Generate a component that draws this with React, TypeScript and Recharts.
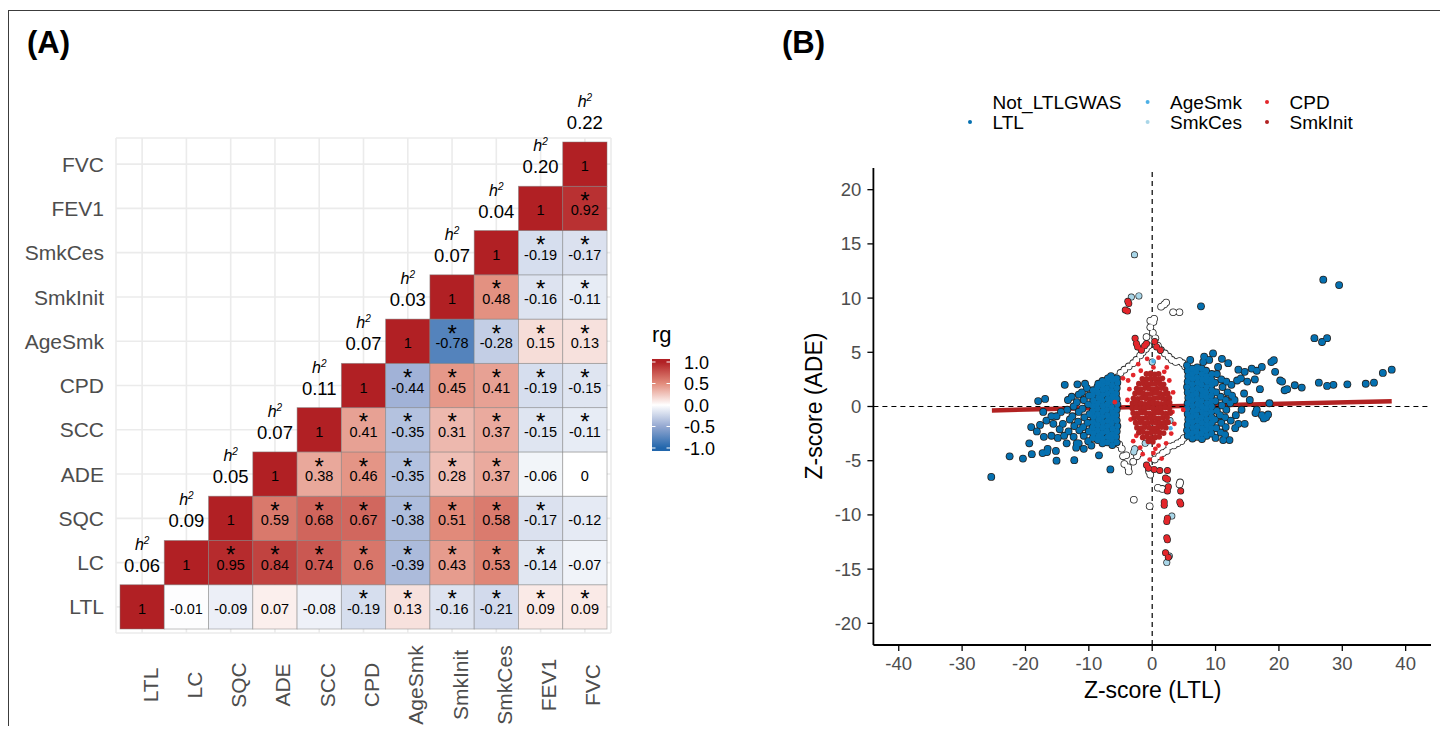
import React from 'react';
import {
  ScatterChart,
  Scatter,
  XAxis,
  YAxis,
  CartesianGrid,
  ReferenceLine
} from 'recharts';

const FONT = '"Liberation Sans", Arial, Helvetica, sans-serif';

// ---------- panel A : genetic correlation matrix ----------
const traits = ['LTL', 'LC', 'SQC', 'ADE', 'SCC', 'CPD', 'AgeSmk', 'SmkInit', 'SmkCes', 'FEV1', 'FVC'];
const heritability = [0.06, 0.09, 0.05, 0.07, 0.11, 0.07, 0.03, 0.07, 0.04, 0.2, 0.22];

// row i holds rg of trait i with traits i..10
const rgRows = [
  [1, -0.01, -0.09, 0.07, -0.08, -0.19, 0.13, -0.16, -0.21, 0.09, 0.09],
  [1, 0.95, 0.84, 0.74, 0.6, -0.39, 0.43, 0.53, -0.14, -0.07],
  [1, 0.59, 0.68, 0.67, -0.38, 0.51, 0.58, -0.17, -0.12],
  [1, 0.38, 0.46, -0.35, 0.28, 0.37, -0.06, 0],
  [1, 0.41, -0.35, 0.31, 0.37, -0.15, -0.11],
  [1, -0.44, 0.45, 0.41, -0.19, -0.15],
  [1, -0.78, -0.28, 0.15, 0.13],
  [1, 0.48, -0.16, -0.11],
  [1, -0.19, -0.17],
  [1, 0.92],
  [1]
];
const sigRows = [
  [0, 0, 0, 0, 0, 1, 1, 1, 1, 1, 1],
  [0, 1, 1, 1, 1, 1, 1, 1, 1, 0],
  [0, 1, 1, 1, 1, 1, 1, 1, 0],
  [0, 1, 1, 1, 1, 1, 0, 0],
  [0, 1, 1, 1, 1, 1, 1],
  [0, 1, 1, 1, 1, 1],
  [0, 1, 1, 1, 1],
  [0, 1, 1, 1],
  [0, 1, 1],
  [0, 1],
  [0]
];
const rgLegendTicks = [1.0, 0.5, 0.0, -0.5, -1.0];

// ---------- panel B : Z-score scatter ----------
const zTicksX = [-40, -30, -20, -10, 0, 10, 20, 30, 40];
const zTicksY = [-20, -15, -10, -5, 0, 5, 10, 15, 20];
const fitLine = [[-25.3, -0.36], [37.8, 0.49]];

const notGwas: [number, number][] = [
  [-5.5, 2.7], [-5.0, 3.1], [-4.4, 3.4], [-3.7, 3.7], [-3.0, 4.0], [-2.5, 4.3], [-1.9, 4.7], [-1.5, 5.0],
  [-1.0, 5.3], [-0.6, 5.6], [-0.9, 6.4], [0.1, 6.8], [0.5, 6.3], [-0.3, 7.3], [0.2, 7.8], [-0.3, 7.9],
  [0.3, 8.1], [1.4, 9.2], [1.9, 9.4], [2.2, 9.6], [3.3, 8.7], [4.3, 8.7], [0.9, 5.6], [1.4, 5.2],
  [2.0, 4.9], [2.6, 4.6], [3.1, 4.3], [3.7, 4.1], [4.3, 4.2], [4.8, 4.0], [5.2, 3.7],
  [-5.2, -3.5], [-4.8, -3.9], [-4.6, -4.6], [-4.1, -4.5], [-4.4, -5.3], [-3.8, -5.6], [-3.7, -6.0],
  [-3.0, -5.1], [-2.4, -4.6], [-2.0, -4.3], [-0.5, -6.0], [-0.3, -6.3], [0.4, -4.9], [1.1, -4.6],
  [1.7, -4.3], [2.3, -4.1], [2.7, -3.7], [3.4, -3.6], [4.0, -3.4], [4.6, -3.2], [5.0, -2.9],
  [0.9, -7.5], [1.6, -7.6], [4.3, -7.2], [4.4, -7.0], [-2.9, -8.6], [-0.4, -9.2]
];

const ltlHits: [number, number][] = [
  // left block
  [-5.6, -3.3], [-5.7, -2.8], [-5.6, -2.3], [-5.5, -1.8], [-5.6, -1.3], [-5.7, -0.8], [-5.6, -0.3], [-5.5, 0.2],
  [-5.6, 0.7], [-5.7, 1.2], [-5.6, 1.7], [-5.5, 2.2], [-5.6, 2.6],
  [-6.3, -3.55], [-6.4, -3.05], [-6.35, -2.55], [-6.3, -2.05], [-6.4, -1.55], [-6.35, -1.05], [-6.3, -0.55],
  [-6.4, -0.05], [-6.35, 0.45], [-6.3, 0.95], [-6.4, 1.45], [-6.35, 1.95], [-6.3, 2.45], [-6.5, 2.8],
  [-7.1, -3.3], [-7.0, -2.8], [-7.15, -2.3], [-7.1, -1.8], [-7.0, -1.3], [-7.1, -0.8], [-7.15, -0.3], [-7.1, 0.2],
  [-7.0, 0.7], [-7.1, 1.2], [-7.15, 1.7], [-7.1, 2.2], [-7.0, 2.6],
  [-7.85, -3.4], [-7.8, -2.95], [-7.9, -2.45], [-7.85, -1.95], [-7.8, -1.45], [-7.9, -0.95], [-7.85, -0.45],
  [-7.8, 0.05], [-7.9, 0.55], [-7.85, 1.05], [-7.8, 1.55], [-7.9, 2.0], [-7.85, 2.35],
  [-8.6, -3.1], [-8.5, -2.7], [-8.65, -2.2], [-8.6, -1.7], [-8.5, -1.2], [-8.6, -0.7], [-8.65, -0.2], [-8.6, 0.3],
  [-8.5, 0.8], [-8.6, 1.3], [-8.65, 1.8], [-8.5, 2.1],
  [-9.35, -2.9], [-9.3, -2.45], [-9.4, -1.95], [-9.35, -1.45], [-9.3, -0.95], [-9.4, -0.45], [-9.35, 0.05],
  [-9.3, 0.55], [-9.4, 1.05], [-9.35, 1.5],
  [-10.1, -3.2], [-10.0, -2.3], [-10.2, -1.5], [-9.9, -0.7], [-10.1, 0.2], [-10.0, 1.0], [-10.3, 1.7], [-10.6, 2.1],
  [-10.8, -2.7], [-10.9, -1.9], [-10.7, -1.0], [-11.0, -0.2], [-10.8, 0.6], [-11.1, 1.3],
  [-11.6, -3.4], [-11.5, -2.2], [-11.7, -1.4], [-11.6, -0.5], [-11.9, 0.4], [-11.6, 1.1], [-11.8, 2.05],
  [-12.4, -2.8], [-12.3, -1.8], [-12.6, -0.9], [-12.4, 0.0], [-12.7, 0.9], [-13.2, -2.3], [-13.0, -1.2],
  [-13.4, -0.3], [-13.3, 0.6], [-13.8, 2.0], [-13.9, -2.7], [-14.1, -1.6], [-14.4, -0.5],
  // left outliers
  [-25.4, -6.5], [-22.5, -4.6], [-20.4, -4.8], [-19.0, -4.4], [-19.4, -3.4], [-17.3, -4.3], [-16.6, -4.2],
  [-16.5, -3.9], [-15.1, -5.0], [-15.2, -4.1], [-12.3, -4.95], [-8.4, -4.5], [-6.6, -5.8], [-11.9, -3.4],
  [-18.0, 0.5], [-16.9, 0.7], [-19.1, -1.9], [-17.7, -1.7], [-17.1, -2.8], [-15.9, -2.7], [-14.9, -2.9],
  [-16.7, -1.3], [-15.9, -0.9], [-15.1, -0.9], [-17.2, -0.5], [-18.2, -2.3], [-14.6, -2.1], [-12.0, -3.8],
  [-10.8, -3.9], [-9.6, -3.6], [-13.5, -3.4], [-15.6, -1.6],
  // right block
  [5.6, -2.7], [5.5, -2.2], [5.6, -1.7], [5.7, -1.2], [5.6, -0.7], [5.5, -0.2], [5.6, 0.3], [5.7, 0.8],
  [5.6, 1.3], [5.5, 1.8], [5.6, 2.3], [5.7, 2.8], [5.6, 3.3], [5.5, 3.8],
  [6.35, -2.95], [6.3, -2.45], [6.4, -1.95], [6.35, -1.45], [6.3, -0.95], [6.4, -0.45], [6.35, 0.05],
  [6.3, 0.55], [6.4, 1.05], [6.35, 1.55], [6.3, 2.05], [6.4, 2.55], [6.35, 3.05], [6.3, 3.5],
  [7.1, -2.8], [7.0, -2.3], [7.15, -1.8], [7.1, -1.3], [7.0, -0.8], [7.1, -0.3], [7.15, 0.2], [7.1, 0.7],
  [7.0, 1.2], [7.1, 1.7], [7.15, 2.2], [7.1, 2.7], [7.0, 3.2], [7.1, 3.6],
  [7.85, -3.0], [7.8, -2.5], [7.9, -2.0], [7.85, -1.5], [7.8, -1.0], [7.9, -0.5], [7.85, 0.0], [7.8, 0.5],
  [7.9, 1.0], [7.85, 1.5], [7.8, 2.0], [7.9, 2.5], [7.85, 3.0], [7.8, 3.5], [8.05, 4.1],
  [8.6, -2.7], [8.5, -2.2], [8.65, -1.7], [8.6, -1.2], [8.5, -0.7], [8.6, -0.2], [8.65, 0.3], [8.6, 0.8],
  [8.5, 1.3], [8.6, 1.8], [8.65, 2.3], [8.6, 2.8], [8.5, 3.3],
  [9.35, -2.5], [9.3, -2.0], [9.4, -1.5], [9.35, -1.0], [9.3, -0.5], [9.4, 0.0], [9.35, 0.5], [9.3, 1.0],
  [9.4, 1.5], [9.35, 2.0], [9.3, 2.5], [9.4, 3.0],
  [10.0, -2.9], [10.1, -2.0], [9.9, -1.2], [10.2, -0.4], [10.0, 0.5], [10.1, 1.3], [9.9, 2.2], [10.2, 3.0],
  [10.4, 3.65], [10.8, -2.4], [10.9, -1.5], [10.7, -0.8], [11.0, 0.1], [10.8, 0.9], [11.1, 1.8], [10.9, 2.5],
  [11.6, -1.9], [11.5, -1.0], [11.7, -0.3], [11.6, 0.6], [11.9, 1.3], [11.7, 2.3], [12.0, 4.0],
  [12.4, -1.3], [12.3, 0.3], [12.6, 1.0], [12.5, 2.0], [13.1, -2.0], [13.2, -0.8], [13.6, -1.6], [13.0, 0.6],
  [13.6, 3.4], [13.4, 2.4], [11.2, -3.1], [12.2, -3.1], [11.5, -2.6],
  // right outliers
  [14.1, -0.3], [14.6, -1.6], [14.6, 3.2], [15.7, 3.5], [16.5, 3.3], [17.3, 3.65], [18.8, 4.1], [19.2, 4.27],
  [19.4, 3.2], [20.2, 2.4], [20.9, 1.5], [15.0, 2.3], [16.2, 2.5], [14.0, 2.6], [16.5, -0.3], [17.3, -0.8],
  [18.0, -1.0], [18.3, -0.74], [17.6, -1.1], [16.3, -0.6], [15.4, 0.6], [14.5, 1.2], [17.0, 1.6], [18.5, 0.3],
  [20.5, 2.3], [21.3, 1.6], [22.5, 1.96], [23.6, 1.75], [26.3, 2.2], [27.6, 1.9], [28.6, 2.0], [30.8, 2.05],
  [33.7, 2.1], [35.0, 2.2], [36.4, 3.1], [37.8, 3.4], [25.6, 6.3], [26.8, 5.95], [27.6, 6.3], [27.0, 11.7],
  [29.5, 11.2], [7.7, 9.24], [8.2, 4.6], [9.6, 4.9], [6.0, 4.3], [11.0, 4.4], [9.0, 4.3]
];

const ageSmkHits: [number, number][] = [[0.2, 4.2], [1.9, -1.0], [-0.4, -3.3], [2.9, -2.0]];

const smkCesHits: [number, number][] = [
  [-2.8, 14.0], [-3.3, 10.1], [-2.1, 10.2], [3.1, -10.1], [2.3, -14.4], [2.7, -13.8],
  [-2.75, -3.9], [-2.9, -4.2], [0.0, 4.1], [2.8, -1.3], [-1.1, -3.4]
];

const cpdOuter: [number, number][] = [
  [-3.85, 9.7], [-3.7, 9.5], [-4.25, 8.9], [-3.9, 8.8], [-2.7, 6.3], [-2.5, 5.8], [-2.3, 5.5], [-1.7, 5.2],
  [-0.9, 5.8], [0.4, 6.0], [0.7, 5.5], [1.3, 5.2], [-1.2, 5.6],
  [-0.9, -5.4], [-0.6, -5.7], [0.3, -5.8], [1.2, -5.9], [2.4, -5.9], [2.4, -6.7], [2.1, -6.6], [2.55, -7.4],
  [2.4, -7.8], [4.5, -7.8], [1.9, -8.8], [1.9, -9.1], [4.35, -8.8], [4.5, -9.0], [2.4, -10.3], [2.3, -10.6],
  [2.3, -12.1], [2.4, -12.3], [2.1, -13.5], [2.55, -13.9]
];

const cpdInner: [number, number][] = [
  [-2.2, 3.9], [0.2, 3.6], [-3.8, 2.4], [-4.6, 2.6], [-3.0, 2.9], [1.9, 3.2], [2.7, 2.4], [-0.8, 4.4],
  [1.0, 4.5], [-1.8, 3.3], [2.3, 3.6], [2.7, 0.3], [3.2, -0.5], [3.5, -1.6], [-2.5, -2.7], [-3.0, -3.2],
  [-3.6, 1.6], [-3.9, 0.6], [-3.4, -1.2], [3.3, 1.3], [3.0, -2.5], [-5.9, 0.4], [4.9, -0.3],
  [0.2, -4.3], [-0.4, -4.9], [0.5, -3.9], [-1.5, -4.4], [1.5, -4.8], [1.0, -3.6], [-1.9, -3.8], [2.2, -3.4]
];

const smkInitHits: [number, number][] = [
  [-0.9, 3.0], [-0.25, 3.05], [0.4, 2.95], [1.0, 3.0],
  [-1.55, 2.55], [-0.9, 2.5], [-0.25, 2.6], [0.4, 2.55], [1.05, 2.5], [1.6, 2.6],
  [-2.1, 2.1], [-1.45, 2.15], [-0.8, 2.05], [-0.15, 2.1], [0.5, 2.1], [1.15, 2.15], [1.8, 2.05],
  [-2.45, 1.65], [-1.8, 1.6], [-1.15, 1.7], [-0.5, 1.65], [0.15, 1.6], [0.8, 1.65], [1.45, 1.7], [2.1, 1.6],
  [-2.7, 1.2], [-2.05, 1.25], [-1.4, 1.2], [-0.75, 1.15], [-0.1, 1.2], [0.55, 1.25], [1.2, 1.2], [1.85, 1.15], [2.45, 1.2],
  [-2.95, 0.75], [-2.3, 0.7], [-1.65, 0.8], [-1.0, 0.75], [-0.35, 0.7], [0.3, 0.75], [0.95, 0.8], [1.6, 0.75], [2.25, 0.7], [2.7, 0.8],
  [-3.1, 0.3], [-2.45, 0.35], [-1.8, 0.3], [-1.15, 0.25], [-0.5, 0.3], [0.15, 0.35], [0.8, 0.3], [1.45, 0.25], [2.1, 0.3], [2.75, 0.35],
  [-3.15, -0.15], [-2.5, -0.1], [-1.85, -0.2], [-1.2, -0.15], [-0.55, -0.1], [0.1, -0.15], [0.75, -0.2], [1.4, -0.15], [2.05, -0.1], [2.7, -0.15],
  [-3.0, -0.6], [-2.35, -0.65], [-1.7, -0.55], [-1.05, -0.6], [-0.4, -0.65], [0.25, -0.6], [0.9, -0.55], [1.55, -0.6], [2.2, -0.65], [2.85, -0.6],
  [-2.85, -1.05], [-2.2, -1.0], [-1.55, -1.1], [-0.9, -1.05], [-0.25, -1.0], [0.4, -1.05], [1.05, -1.1], [1.7, -1.05], [2.35, -1.0],
  [-2.6, -1.5], [-1.95, -1.45], [-1.3, -1.55], [-0.65, -1.5], [0.0, -1.45], [0.65, -1.5], [1.3, -1.55], [1.95, -1.5], [2.5, -1.45],
  [-2.4, -1.95], [-1.75, -2.0], [-1.1, -1.9], [-0.45, -1.95], [0.2, -2.0], [0.85, -1.95], [1.5, -1.9], [2.15, -1.95],
  [-2.1, -2.4], [-1.45, -2.35], [-0.8, -2.45], [-0.15, -2.4], [0.5, -2.35], [1.15, -2.4], [1.8, -2.45],
  [-1.5, -2.85], [-0.85, -2.8], [-0.2, -2.9], [0.45, -2.85], [1.1, -2.8], [-0.6, -3.2], [0.1, -3.25]
];

const legendItems = [
  { name: 'Not_LTLGWAS', color: '#ffffff', col: 0, row: 0 },
  { name: 'LTL', color: '#0570B0', col: 0, row: 1 },
  { name: 'AgeSmk', color: '#4DB0E6', col: 1, row: 0 },
  { name: 'SmkCes', color: '#A9D6E8', col: 1, row: 1 },
  { name: 'CPD', color: '#E3262B', col: 2, row: 0 },
  { name: 'SmkInit', color: '#B22222', col: 2, row: 1 }
];

// ---------- helpers ----------
const colorStops: [number, number[]][] = [
  [-1, [33, 102, 172]],
  [-0.5, [148, 168, 209]],
  [0, [255, 255, 255]],
  [0.5, [226, 140, 124]],
  [1, [177, 32, 36]]
];

function rgColor(v: number) {
  for (let i = 0; i < colorStops.length - 1; i++) {
    const [a, ca] = colorStops[i];
    const [b, cb] = colorStops[i + 1];
    if (v >= a && v <= b) {
      const t = (v - a) / (b - a);
      const c = ca.map((c0, k) => Math.round(c0 + (cb[k] - c0) * t));
      return `rgb(${c[0]},${c[1]},${c[2]})`;
    }
  }
  return v > 0 ? 'rgb(177,32,36)' : 'rgb(33,102,172)';
}

const toXY = (pts: [number, number][]) => pts.map(([x, y]) => ({ x, y }));

const cells = rgRows.flatMap((row, i) =>
  row.map((v, k) => ({ x: i + k + 1, y: i + 1, v, sig: sigRows[i][k] }))
);
const diag = heritability.map((h, i) => ({ x: i + 1, y: i + 1, h }));
const traitPos = traits.map((_, i) => i + 1);

const A_PLOT = 495;
const A_DOMAIN: [number, number] = [0.41, 11.59];
const CELL = A_PLOT / (A_DOMAIN[1] - A_DOMAIN[0]);

const HeatCell = (p: any) => {
  const { cx, cy, payload } = p;
  return (
    <g>
      <rect
        x={cx - CELL / 2}
        y={cy - CELL / 2}
        width={CELL}
        height={CELL}
        fill={rgColor(payload.v)}
        stroke="#7f7f7f"
        strokeOpacity={0.6}
        strokeWidth={0.8}
      />
      {payload.sig ? (
        <text x={cx} y={cy + 0.5} textAnchor="middle" fontSize={24} fill="#000">*</text>
      ) : null}
      <text x={cx} y={cy + 7} textAnchor="middle" fontSize={14.5} fill="#000">{String(payload.v)}</text>
    </g>
  );
};

const H2Label = (p: any) => {
  const { cx, cy, payload } = p;
  const top = cy - CELL / 2;
  return (
    <g>
      <text x={cx} y={top - 35} textAnchor="middle" fontSize={16} fontStyle="italic" fill="#000">
        h<tspan dy={-6} fontSize={10}>2</tspan>
      </text>
      <text x={cx} y={top - 13} textAnchor="middle" fontSize={18.5} fill="#000">{payload.h.toFixed(2)}</text>
    </g>
  );
};

const TraitXTick = (p: any) => {
  const { x, y, payload } = p;
  return (
    <text transform={`translate(${x + 15.5},${y + 52}) rotate(-90)`} textAnchor="middle" fontSize={21} fill="#4d4d4d">
      {traits[payload.value - 1]}
    </text>
  );
};

const TraitYTick = (p: any) => {
  const { x, y, payload } = p;
  return (
    <text x={x - 12} y={y + 7.6} textAnchor="end" fontSize={21} fill="#4d4d4d">
      {traits[payload.value - 1]}
    </text>
  );
};

const ring = (r: number) => (p: any) => <circle cx={p.cx} cy={p.cy} r={r} fill="#222" />;
const fillDot = (r: number, color: string) => (p: any) => <circle cx={p.cx} cy={p.cy} r={r} fill={color} />;

const barY = (v: number) => 405 - v * 43;

export default function App() {
  const axisTick = { fill: '#4d4d4d', fontSize: 18.5 };
  return (
    <div style={{ position: 'relative', margin: -8, width: 1448, height: 734, overflow: 'hidden', fontFamily: FONT, background: '#fff' }}>
      <div style={{ position: 'absolute', left: 8, top: 10, width: 1433, height: 740, border: '1.5px solid #3c3c3c', boxSizing: 'border-box' }} />

      {/* panel A */}
      <div style={{ position: 'absolute', left: 0, top: 0 }}>
        <ScatterChart width={720} height={734} margin={{ top: 138, right: 109, bottom: 11, left: 16 }} style={{ fontFamily: FONT }}>
          <CartesianGrid stroke="#ebebeb" strokeWidth={1.6} />
          <XAxis type="number" dataKey="x" domain={A_DOMAIN} ticks={traitPos} interval={0} height={90}
            axisLine={false} tickLine={false} tickSize={0} tickMargin={0} tick={TraitXTick} />
          <YAxis type="number" dataKey="y" domain={A_DOMAIN} ticks={traitPos} interval={0} width={100}
            axisLine={false} tickLine={false} tickSize={0} tickMargin={0} tick={TraitYTick} />
          <Scatter data={cells} shape={HeatCell} isAnimationActive={false} />
          <Scatter data={diag} shape={H2Label} isAnimationActive={false} />
        </ScatterChart>
      </div>

      {/* panel B */}
      <div style={{ position: 'absolute', left: 760, top: 0 }}>
        <ScatterChart width={688} height={734} margin={{ top: 168, right: 17, bottom: 49, left: 53.4 }} style={{ fontFamily: FONT }}>
          <XAxis type="number" dataKey="x" domain={[-44, 44]} ticks={zTicksX} interval={0} height={40}
            axisLine={{ stroke: '#000', strokeWidth: 1.8 }} tickLine={{ stroke: '#000', strokeWidth: 1.3 }}
            tickSize={6} tickMargin={6} tick={axisTick} />
          <YAxis type="number" dataKey="y" domain={[-22, 22]} ticks={zTicksY} interval={0} width={60}
            axisLine={{ stroke: '#000', strokeWidth: 1.8 }} tickLine={{ stroke: '#000', strokeWidth: 1.3 }}
            tickSize={6} tickMargin={6} tick={axisTick} />
          <Scatter data={toXY(notGwas)} shape={ring(3.8)} isAnimationActive={false} />
          <Scatter data={toXY(notGwas)} shape={fillDot(3.0, '#ffffff')} isAnimationActive={false} />
          <Scatter data={toXY(ltlHits)} shape={ring(3.9)} isAnimationActive={false} />
          <Scatter data={toXY(ltlHits)} shape={fillDot(3.1, '#0570B0')} isAnimationActive={false} />
          <Scatter data={toXY(smkCesHits)} shape={ring(3.5)} isAnimationActive={false} />
          <Scatter data={toXY(smkCesHits)} shape={fillDot(2.8, '#A9D6E8')} isAnimationActive={false} />
          <Scatter data={toXY(ageSmkHits)} shape={fillDot(2.2, '#4DB0E6')} isAnimationActive={false} />
          <Scatter data={toXY(cpdOuter)} shape={ring(3.5)} isAnimationActive={false} />
          <Scatter data={toXY(cpdOuter)} shape={fillDot(2.8, '#E3262B')} isAnimationActive={false} />
          <Scatter data={toXY(cpdInner)} shape={fillDot(2.4, '#E3262B')} isAnimationActive={false} />
          <Scatter data={toXY(smkInitHits)} shape={fillDot(2.9, '#B22222')} isAnimationActive={false} />
          <ReferenceLine segment={fitLine.map(([x, y]) => ({ x, y }))} stroke="#B22222" strokeWidth={4.5} />
          <ReferenceLine x={0} stroke="#000" strokeWidth={1.2} strokeDasharray="5 4" />
          <ReferenceLine y={0} stroke="#000" strokeWidth={1.2} strokeDasharray="5 4" />
        </ScatterChart>
      </div>

      {/* static labels, legends */}
      <svg width={1448} height={734} style={{ position: 'absolute', left: 0, top: 0, pointerEvents: 'none', fontFamily: FONT }}>
        <defs>
          <linearGradient id="rgGrad" x1="0" y1="0" x2="0" y2="1">
            {[1.07, 1, 0.5, 0, -0.5, -1, -1.07].map((v) => (
              <stop key={v} offset={(1.07 - v) / 2.14} stopColor={rgColor(Math.max(-1, Math.min(1, v)))} />
            ))}
          </linearGradient>
        </defs>
        <text x={27} y={53} fontSize={31} fontWeight="bold">(A)</text>
        <text x={782} y={53} fontSize={31} fontWeight="bold">(B)</text>

        <text x={652} y={342} fontSize={22} fill="#000">rg</text>
        <rect x={652} y={barY(1.07)} width={18} height={barY(-1.07) - barY(1.07)} fill="url(#rgGrad)" />
        {rgLegendTicks.map((v) => (
          <g key={v}>
            <line x1={652} x2={655.5} y1={barY(v)} y2={barY(v)} stroke="#fff" strokeWidth={1} />
            <line x1={666.5} x2={670} y1={barY(v)} y2={barY(v)} stroke="#fff" strokeWidth={1} />
            <text x={684} y={barY(v) + 6.5} fontSize={18} fill="#000">{v.toFixed(1)}</text>
          </g>
        ))}

        {legendItems.map((it) => {
          const dotX = [970, 1147.6, 1267][it.col];
          const cy = 102 + it.row * 20;
          return (
            <g key={it.name}>
              <circle cx={dotX} cy={cy} r={2} fill={it.color} />
              <text x={dotX + 22.5} y={cy + 7} fontSize={19} fill="#000">{it.name}</text>
            </g>
          );
        })}

        <text x={1152.7} y={698} textAnchor="middle" fontSize={23} fill="#000">Z-score (LTL)</text>
        <text transform="translate(822,406) rotate(-90)" textAnchor="middle" fontSize={23} fill="#000">Z-score (ADE)</text>
      </svg>
    </div>
  );
}
